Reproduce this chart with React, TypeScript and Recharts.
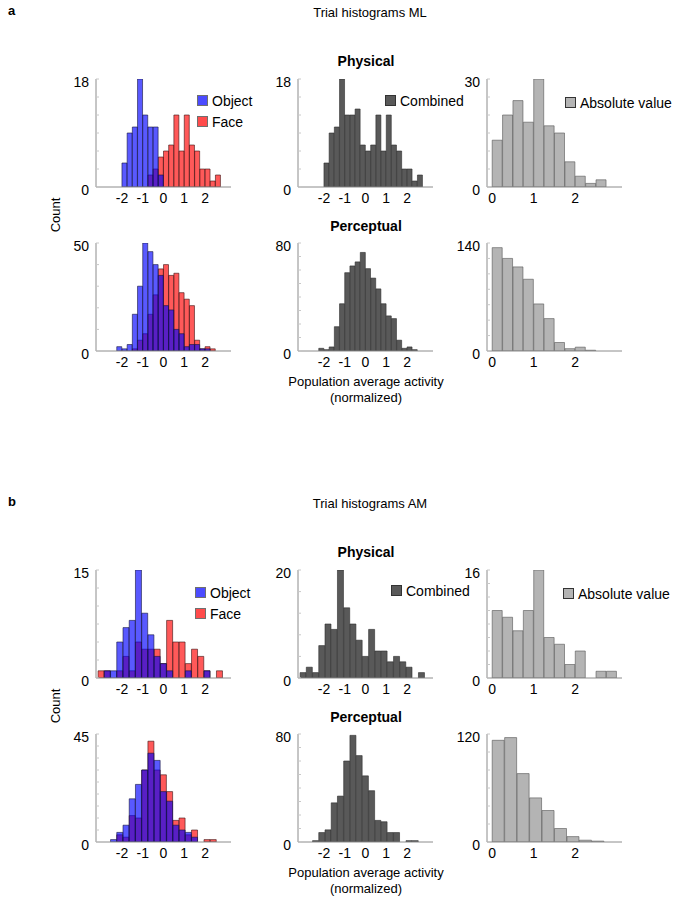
import { BarChart, Bar, XAxis, YAxis, Legend } from "recharts";

// ---------- data (bin centres + counts) ----------

// ML, physical: 0.25-wide bins
const mlPhysBins = [-1.875, -1.625, -1.375, -1.125, -0.875, -0.625, -0.375, -0.125, 0.125, 0.375, 0.625, 0.875, 1.125, 1.375, 1.625, 1.875, 2.125, 2.375, 2.625];
const mlPhysObject = [4, 9, 10, 18, 12, 10, 10, 2, 0, 0, 0, 0, 0, 0, 0, 0, 0, 0, 0];
const mlPhysFace = [0, 0, 0, 0, 0, 2, 3, 5, 6, 7, 12, 6, 12, 7, 6, 3, 3, 1, 2];
const mlPhysCombined = [4, 9, 10, 18, 12, 12, 13, 7, 6, 7, 12, 6, 12, 7, 6, 3, 3, 1, 2];
const mlPhysAbs = [13, 20, 24, 18, 30, 17, 15, 7, 3, 1, 2, 0];

// ML, perceptual
const mlPercBins = [-2.125, -1.875, -1.625, -1.375, -1.125, -0.875, -0.625, -0.375, -0.125, 0.125, 0.375, 0.625, 0.875, 1.125, 1.375, 1.625, 1.875, 2.125, 2.375];
const mlPercObject = [2, 1, 3, 17, 30, 50, 46, 40, 35, 21, 19, 10, 8, 2, 3, 3, 1, 1, 0];
const mlPercFace = [0, 0, 0, 1, 5, 8, 17, 26, 38, 40, 35, 36, 27, 24, 21, 5, 1, 2, 1];
const mlPercCombined = [2, 1, 3, 18, 35, 58, 63, 66, 73, 61, 54, 46, 35, 26, 24, 8, 2, 3, 1];
const mlPercAbs = [134, 120, 109, 93, 61, 42, 11, 3, 5, 1, 0, 0];

// AM: 0.3-wide bins
const amBins = [-3, -2.7, -2.4, -2.1, -1.8, -1.5, -1.2, -0.9, -0.6, -0.3, 0, 0.3, 0.6, 0.9, 1.2, 1.5, 1.8, 2.1, 2.4, 2.7];
const amPhysObject = [0, 1, 1, 5, 7, 8, 15, 9, 6, 3, 2, 1, 0, 0, 1, 0, 0, 1, 0, 0];
const amPhysFace = [1, 1, 0, 1, 3, 1, 5, 4, 4, 4, 2, 8, 5, 5, 2, 4, 3, 1, 0, 1];
const amPhysCombined = [1, 2, 1, 6, 10, 9, 20, 13, 10, 7, 4, 9, 5, 5, 3, 4, 3, 2, 0, 1];
const amPhysAbs = [10, 9, 7, 10, 16, 6, 5, 2, 4, 0, 1, 1];

const amPercObject = [0, 0, 1, 4, 7, 18, 24, 30, 37, 34, 21, 17, 7, 5, 4, 2, 0, 0, 0, 0];
const amPercFace = [0, 0, 0, 3, 2, 11, 10, 30, 42, 30, 28, 21, 9, 10, 3, 5, 0, 1, 1, 0];
const amPercCombined = [0, 0, 1, 7, 9, 29, 34, 60, 79, 64, 49, 38, 16, 15, 7, 7, 0, 1, 1, 0];
const amPercAbs = [113, 116, 76, 49, 35, 15, 6, 2, 1, 0];

const absBins25 = [0.125, 0.375, 0.625, 0.875, 1.125, 1.375, 1.625, 1.875, 2.125, 2.375, 2.625, 2.875];
const absBins30 = [0.15, 0.45, 0.75, 1.05, 1.35, 1.65, 1.95, 2.25, 2.55, 2.85];

const signedTicks = [-2, -1, 0, 1, 2];
const absTicks = [0, 1, 2];

// y limits [max, minor step] per panel
const yMl = [[18, 3], [18, 3], [30, 5], [50, 10], [80, 10], [140, 20]];
const yAm = [[15, 2.5], [20, 4], [16, 2], [45, 5], [80, 10], [120, 20]];

// ---------- styling ----------
const FONT = '"Liberation Sans", Arial, sans-serif';
const YW = 40;
const PAD_T = 4;
const PAD_R = 6;
const XH = 26;
const COL_X = [96, 298, 487];
const PLOT_W = 135;
const ROW_Y = [79, 243, 570, 734];
const PLOT_H = 108;
const B_SHIFT = 491; // section b repeats section a's layout lower down

type Series = { key: string; name: string; fill: string; opacity: number; stroke: string };

const FACE: Series = { key: "face", name: "Face", fill: "#ff0000", opacity: 0.65, stroke: "#3a1010" };
const OBJECT: Series = { key: "object", name: "Object", fill: "#0000ff", opacity: 0.65, stroke: "#14143a" };
const COMBINED: Series = { key: "combined", name: "Combined", fill: "#595959", opacity: 1, stroke: "#2b2b2b" };
const ABS: Series = { key: "abs", name: "Absolute value", fill: "#b4b4b4", opacity: 1, stroke: "#555555" };

interface PanelProps {
  col: number;
  row: number;
  bins: number[];
  values: Record<string, number[]>;
  series: Series[]; // draw order
  domain: [number, number];
  ticks: number[];
  y: number[];
  legend?: { x: number; y: number; items: Series[] };
}

function LegendBox({ items }: { items: Series[] }) {
  return (
    <div style={{ fontFamily: FONT }}>
      {items.map((s) => (
        <div key={s.key} style={{ display: "flex", alignItems: "center", height: 21 }}>
          <span
            style={{
              width: 11,
              height: 11,
              boxSizing: "border-box",
              background: s.fill,
              opacity: s.opacity < 1 ? 0.7 : 1,
              border: "1px solid #333",
              marginRight: 4,
            }}
          />
          <span style={{ fontSize: 14, color: "#000", whiteSpace: "nowrap" }}>{s.name}</span>
        </div>
      ))}
    </div>
  );
}

function Panel({ col, row, bins, values, series, domain, ticks, y, legend }: PanelProps) {
  const plotX = COL_X[col];
  const plotY = ROW_Y[row];
  const [yMax, yStep] = y;
  const yTicks: number[] = [];
  for (let v = 0; v <= yMax + 1e-9; v += yStep) yTicks.push(+v.toFixed(3));
  const data = bins.map((b, i) => {
    const d: Record<string, number> = { x: b };
    series.forEach((s) => (d[s.key] = values[s.key][i]));
    return d;
  });
  const left = plotX - YW;
  const top = plotY - PAD_T;

  return (
    <div style={{ position: "absolute", left, top }}>
      <BarChart
        width={PLOT_W + YW + PAD_R}
        height={PLOT_H + PAD_T + XH}
        data={data}
        margin={{ top: PAD_T, right: PAD_R, left: 0, bottom: 0 }}
        barCategoryGap={0}
        barGap={0}
      >
        {series.map((s, i) => (
          <XAxis
            key={s.key}
            xAxisId={`x${i}`}
            type="number"
            dataKey="x"
            domain={domain}
            ticks={ticks}
            interval={0}
            allowDataOverflow
            hide={i > 0}
            height={XH}
            tickLine={false}
            tickSize={4}
            tickMargin={2}
            axisLine={{ stroke: "#8c8c8c" }}
            tick={{ fill: "#000", fontSize: 14 }}
          />
        ))}
        <YAxis
          width={YW}
          domain={[0, yMax]}
          ticks={yTicks}
          interval={0}
          allowDataOverflow
          tickFormatter={(v: number) => (v === 0 || v === yMax ? String(v) : "")}
          tickSize={-3}
          tickMargin={10}
          tickLine={{ stroke: "#c8c8c8" }}
          axisLine={{ stroke: "#8c8c8c" }}
          tick={{ fill: "#000", fontSize: 14, dy: 3 }}
        />
        {series.map((s, i) => (
          <Bar
            key={s.key}
            xAxisId={`x${i}`}
            dataKey={s.key}
            name={s.name}
            fill={s.fill}
            fillOpacity={s.opacity}
            stroke={s.stroke}
            strokeOpacity={0.75}
            strokeWidth={0.8}
            isAnimationActive={false}
          />
        ))}
        {legend && (
          <Legend
            layout="vertical"
            align="center"
            verticalAlign="middle"
            wrapperStyle={{ left: legend.x - left, top: legend.y - top, width: "auto", height: "auto" }}
            content={() => <LegendBox items={legend.items} />}
          />
        )}
      </BarChart>
    </div>
  );
}

type TextSpec = { t: string; x: number; y: number; size?: number; bold?: boolean; rotate?: boolean; start?: boolean };

const sectionText = (label: string, title: string, dy: number): TextSpec[] => [
  { t: label, x: 8, y: 10 + dy, bold: true, start: true },
  { t: title, x: 370, y: 12 + dy },
  { t: "Physical", x: 366, y: 61 + dy, bold: true, size: 14 },
  { t: "Count", x: 55, y: 215 + dy, rotate: true },
  { t: "Perceptual", x: 366, y: 226 + dy, bold: true, size: 14 },
  { t: "Population average activity", x: 366, y: 381 + dy },
  { t: "(normalized)", x: 366, y: 397 + dy },
];

const texts: TextSpec[] = [
  ...sectionText("a", "Trial histograms ML", 0),
  ...sectionText("b", "Trial histograms AM", B_SHIFT),
];

export default function App() {
  const sd: [number, number] = [-3.25, 3.25];
  const ad: [number, number] = [-0.125, 3.125];
  return (
    <div
      style={{
        position: "absolute",
        left: 0,
        top: 0,
        width: 674,
        height: 912,
        background: "#fff",
        fontFamily: FONT,
        color: "#000",
        overflow: "hidden",
      }}
    >
      {texts.map((s, i) => (
        <div
          key={i}
          style={{
            position: "absolute",
            left: s.x,
            top: s.y,
            fontSize: s.size ?? 13,
            fontWeight: s.bold ? 700 : 400,
            whiteSpace: "nowrap",
            lineHeight: 1,
            transform: s.rotate
              ? "translate(-50%, -50%) rotate(-90deg)"
              : s.start
              ? "translate(0, -50%)"
              : "translate(-50%, -50%)",
          }}
        >
          {s.t}
        </div>
      ))}

      {/* a: ML */}
      <Panel col={0} row={0} bins={mlPhysBins} values={{ face: mlPhysFace, object: mlPhysObject }} series={[FACE, OBJECT]} domain={sd} ticks={signedTicks} y={yMl[0]} legend={{ x: 197, y: 90, items: [OBJECT, FACE] }} />
      <Panel col={1} row={0} bins={mlPhysBins} values={{ combined: mlPhysCombined }} series={[COMBINED]} domain={sd} ticks={signedTicks} y={yMl[1]} legend={{ x: 385, y: 90, items: [COMBINED] }} />
      <Panel col={2} row={0} bins={absBins25} values={{ abs: mlPhysAbs }} series={[ABS]} domain={ad} ticks={absTicks} y={yMl[2]} legend={{ x: 565, y: 92, items: [ABS] }} />
      <Panel col={0} row={1} bins={mlPercBins} values={{ face: mlPercFace, object: mlPercObject }} series={[FACE, OBJECT]} domain={sd} ticks={signedTicks} y={yMl[3]} />
      <Panel col={1} row={1} bins={mlPercBins} values={{ combined: mlPercCombined }} series={[COMBINED]} domain={sd} ticks={signedTicks} y={yMl[4]} />
      <Panel col={2} row={1} bins={absBins25} values={{ abs: mlPercAbs }} series={[ABS]} domain={ad} ticks={absTicks} y={yMl[5]} />

      {/* b: AM */}
      <Panel col={0} row={2} bins={amBins} values={{ face: amPhysFace, object: amPhysObject }} series={[FACE, OBJECT]} domain={sd} ticks={signedTicks} y={yAm[0]} legend={{ x: 195, y: 582, items: [OBJECT, FACE] }} />
      <Panel col={1} row={2} bins={amBins} values={{ combined: amPhysCombined }} series={[COMBINED]} domain={sd} ticks={signedTicks} y={yAm[1]} legend={{ x: 391, y: 580, items: [COMBINED] }} />
      <Panel col={2} row={2} bins={absBins25} values={{ abs: amPhysAbs }} series={[ABS]} domain={ad} ticks={absTicks} y={yAm[2]} legend={{ x: 563, y: 583, items: [ABS] }} />
      <Panel col={0} row={3} bins={amBins} values={{ face: amPercFace, object: amPercObject }} series={[FACE, OBJECT]} domain={sd} ticks={signedTicks} y={yAm[3]} />
      <Panel col={1} row={3} bins={amBins} values={{ combined: amPercCombined }} series={[COMBINED]} domain={sd} ticks={signedTicks} y={yAm[4]} />
      <Panel col={2} row={3} bins={absBins30} values={{ abs: amPercAbs }} series={[ABS]} domain={ad} ticks={absTicks} y={yAm[5]} />
    </div>
  );
}
